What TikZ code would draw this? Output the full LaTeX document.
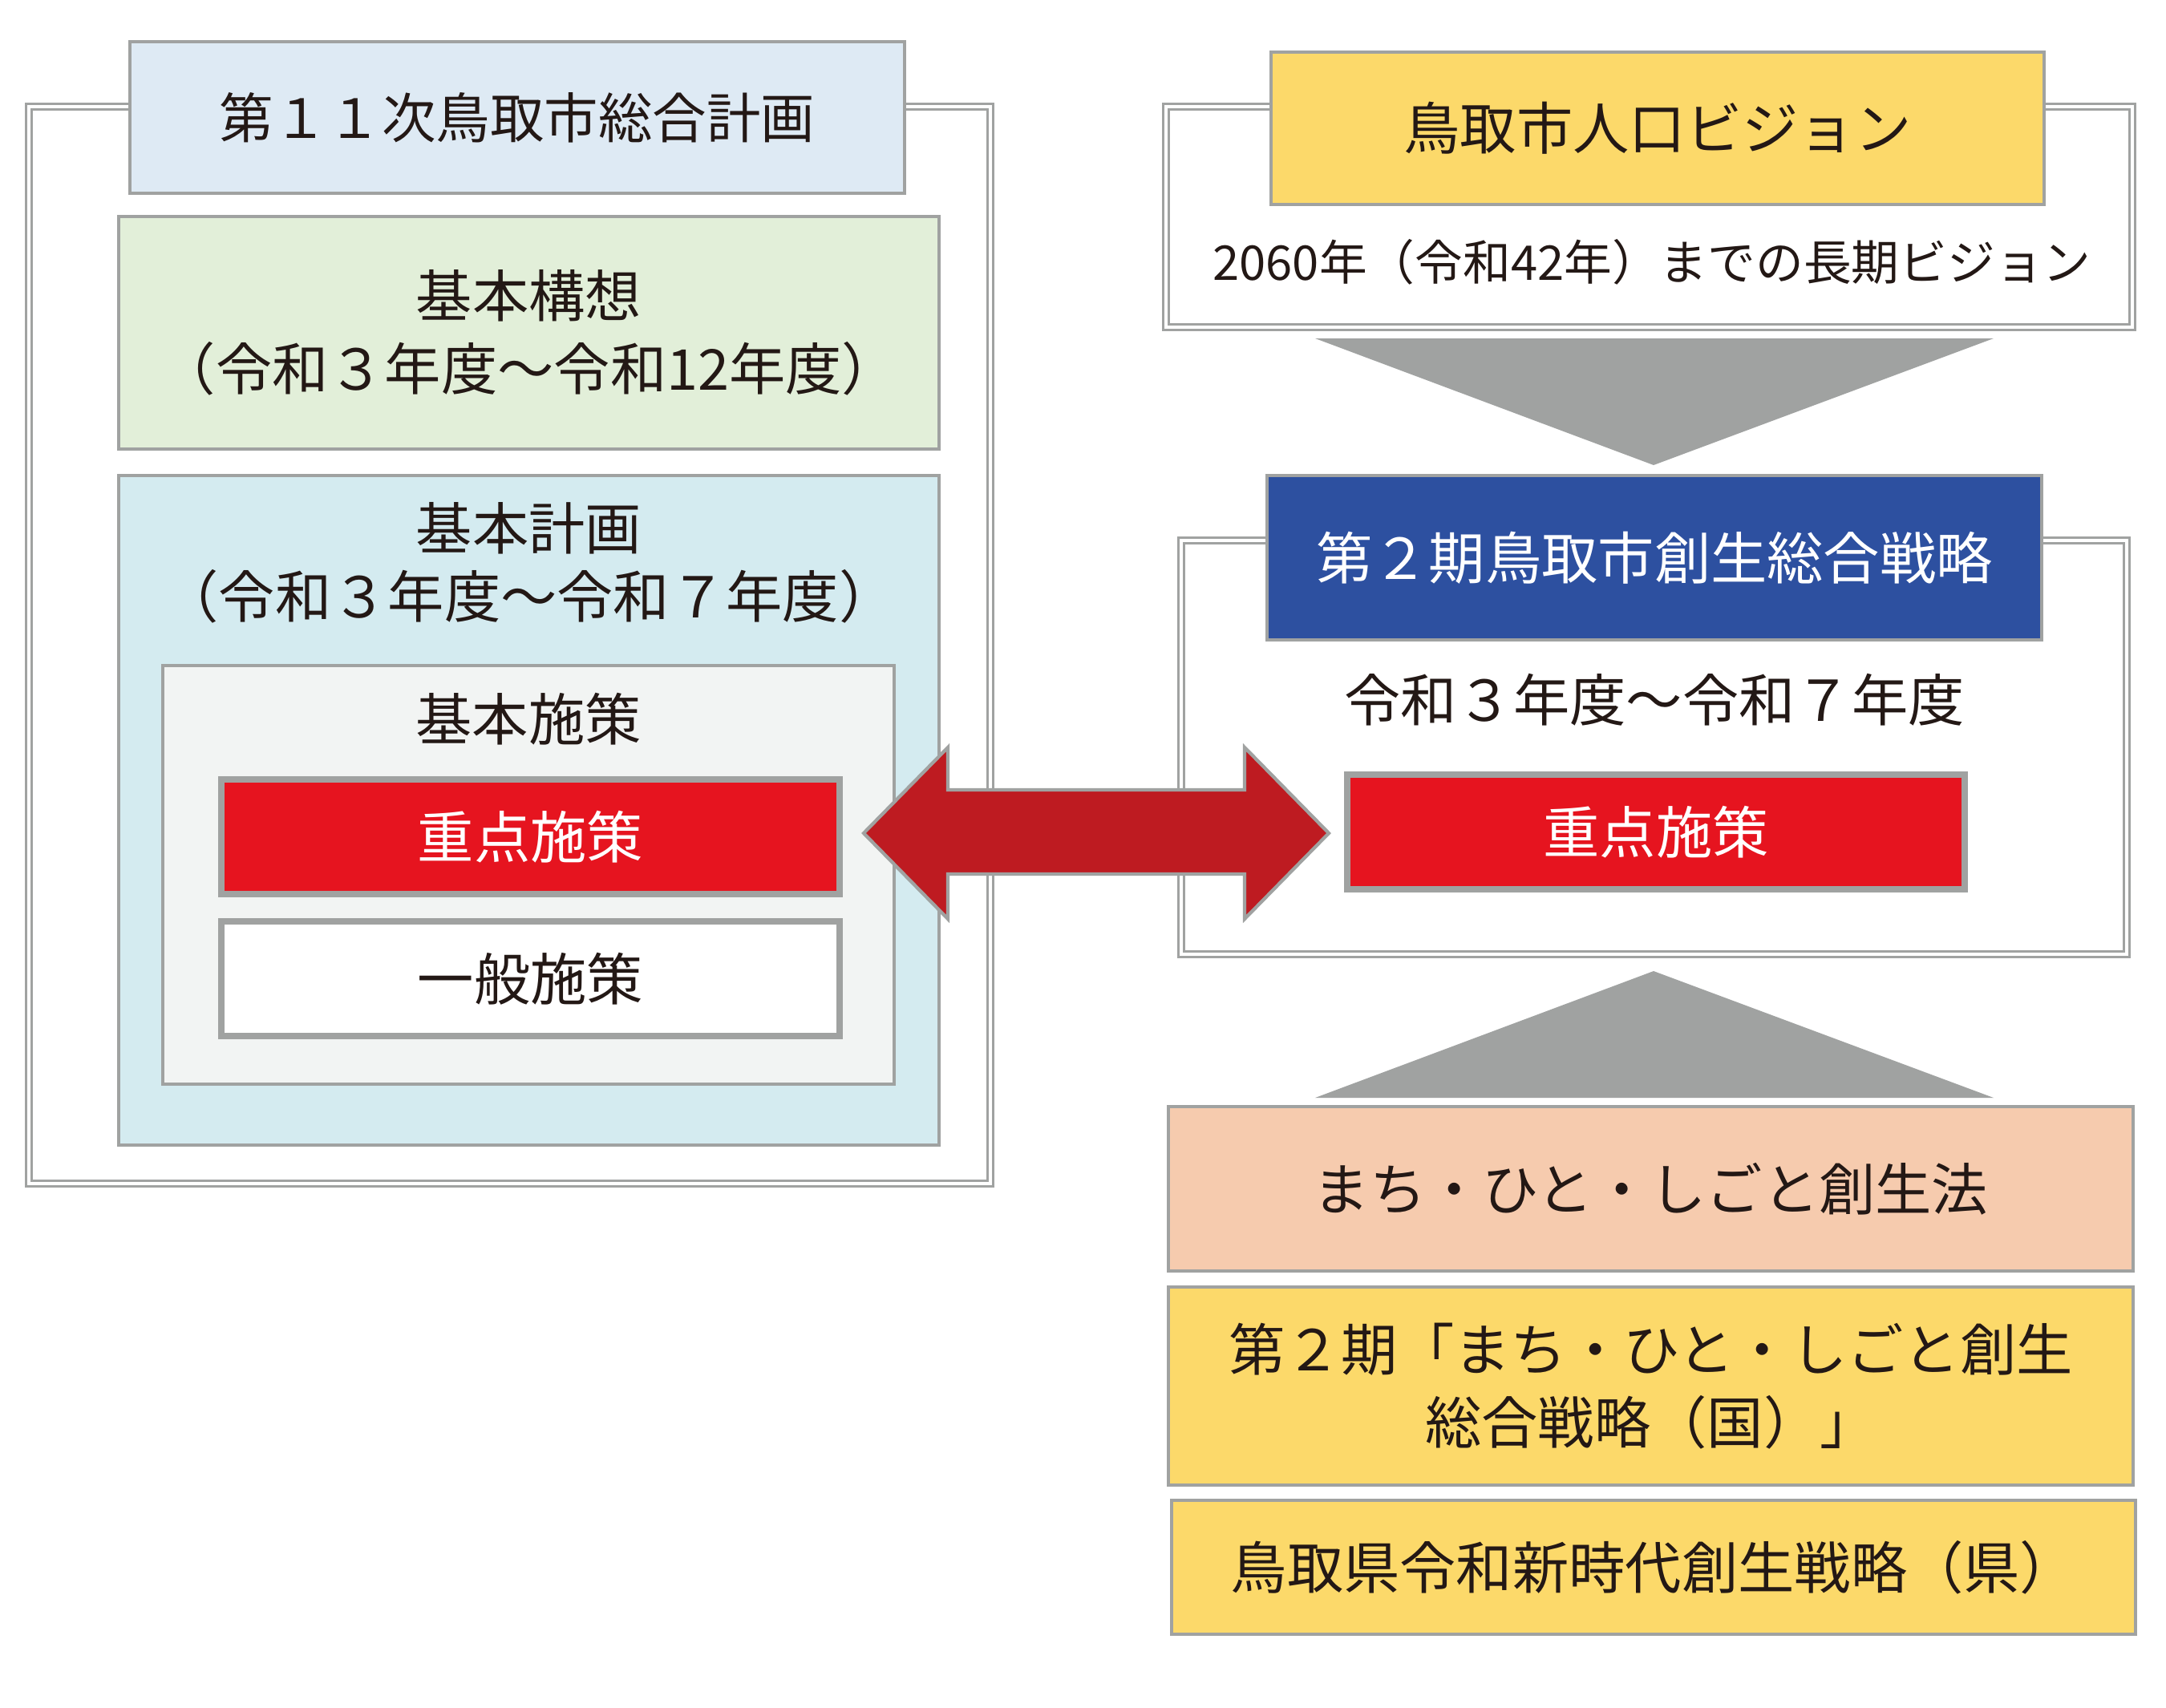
\documentclass[tikz,border=0pt]{standalone}
\usepackage{fontspec}
\newfontfamily\jpfont{Noto Sans CJK JP}
\definecolor{linegray}{HTML}{A0A2A1}
\definecolor{inkdark}{HTML}{231815}
\definecolor{titleblue}{HTML}{DEEAF4}
\definecolor{ideagreen}{HTML}{E2EFD9}
\definecolor{plancyan}{HTML}{D4EBF0}
\definecolor{policygray}{HTML}{F2F4F3}
\definecolor{keyred}{HTML}{E6141F}
\definecolor{arrowred}{HTML}{BE1B21}
\definecolor{visionyellow}{HTML}{FCD96A}
\definecolor{strategyblue}{HTML}{2D50A0}
\definecolor{lawpeach}{HTML}{F6CBAE}
\begin{document}
\begin{tikzpicture}[x=1cm,y=-1cm,line join=miter,
  box/.style={draw=linegray,line width=1.2pt,inner sep=0pt,align=center,
    text=inkdark,font=\jpfont\fontsize{20pt}{26pt}\selectfont},
  keybox/.style={box,line width=2.2pt},
  label/.style={inner sep=0pt,align=center,text=inkdark,
    font=\jpfont\fontsize{20pt}{24pt}\selectfont},
  frame/.style={draw=linegray,line width=0.7pt,double=white,double distance=1.4pt},
  pointer/.style={fill=linegray}]
  \useasboundingbox (0,0) rectangle (27.01,21.29);
  % outer frames
  \draw[frame] (0.36,1.33) rectangle (12.35,14.76);
  \draw[frame] (14.54,1.33) rectangle (26.59,4.08);
  \draw[frame] (14.73,6.74) rectangle (26.52,11.90);
  % general plan (left)
  \node[box,fill=titleblue,minimum width=9.66cm,minimum height=1.89cm,
    font=\jpfont\fontsize{19.2pt}{24pt}\selectfont] (plan) at (6.45,1.465) {第１１次鳥取市総合計画};
  \node[box,fill=ideagreen,minimum width=10.23cm,minimum height=2.90cm] (idea) at (6.595,4.15) {基本構想\\（令和３年度〜令和12年度）};
  \node[box,fill=plancyan,minimum width=10.23cm,minimum height=8.35cm] (basic) at (6.595,10.105) {};
  \node[label] (basictxt) at (6.595,7.02) {基本計画\\（令和３年度〜令和７年度）};
  \node[box,fill=policygray,minimum width=9.12cm,minimum height=5.22cm] (policy) at (6.59,10.91) {};
  \node[label] (policytxt) at (6.59,8.97) {基本施策};
  \node[keybox,fill=keyred,text=white,minimum width=7.71cm,minimum height=1.43cm] (keyL) at (6.615,10.435) {重点施策};
  \node[keybox,fill=white,minimum width=7.71cm,minimum height=1.43cm] (normal) at (6.615,12.205) {一般施策};
  % vision and strategy (right)
  \node[box,fill=visionyellow,minimum width=9.64cm,minimum height=1.90cm] (vision) at (20.67,1.60) {鳥取市人口ビジョン};
  \node[label,font=\jpfont\fontsize{17pt}{20pt}\selectfont] (visiontxt) at (20.60,3.27) {2060年（令和42年）までの長期ビジョン};
  \fill[pointer] (16.40,4.22) -- (24.86,4.22) -- (20.62,5.80) -- cycle;
  \node[box,fill=strategyblue,text=white,minimum width=9.66cm,minimum height=2.05cm] (strategy) at (20.63,6.955) {第２期鳥取市創生総合戦略};
  \node[label] (termtxt) at (20.63,8.73) {令和３年度〜令和７年度};
  \node[keybox,fill=keyred,text=white,minimum width=7.70cm,minimum height=1.43cm] (keyR) at (20.65,10.375) {重点施策};
  \fill[pointer] (16.40,13.69) -- (24.86,13.69) -- (20.62,12.11) -- cycle;
  \node[box,fill=lawpeach,minimum width=12.03cm,minimum height=2.05cm] (law) at (20.585,14.825) {まち・ひと・しごと創生法};
  \node[box,fill=visionyellow,minimum width=12.03cm,minimum height=2.47cm] (nation) at (20.585,17.285) {第２期「まち・ひと・しごと創生\\総合戦略（国）」};
  \node[box,fill=visionyellow,minimum width=12.02cm,minimum height=1.67cm] (pref) at (20.62,19.545) {鳥取県令和新時代創生戦略（県）};
  % link between the two key policies
  \draw[fill=arrowred,draw=linegray,line width=1.2pt]
    (10.77,10.39) -- (11.82,9.32) -- (11.82,9.85) -- (15.52,9.85) -- (15.52,9.32)
    -- (16.57,10.39) -- (15.52,11.46) -- (15.52,10.90) -- (11.82,10.90) -- (11.82,11.46) -- cycle;
\end{tikzpicture}
\end{document}
